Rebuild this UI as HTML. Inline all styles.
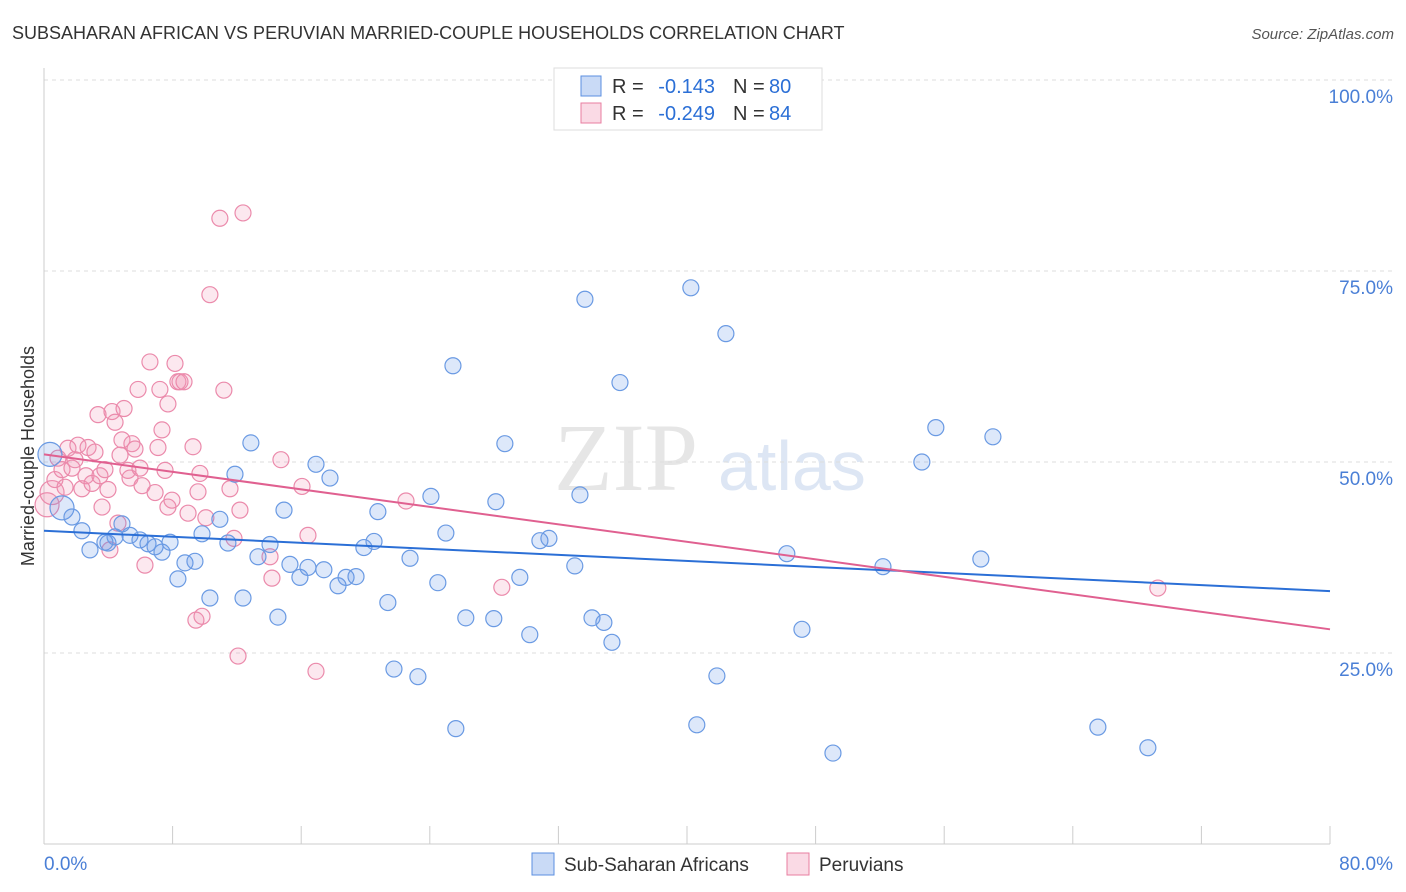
<!DOCTYPE html>
<html><head><meta charset="utf-8"><style>
body{margin:0;background:#fff;font-family:"Liberation Sans",sans-serif;}
svg{display:block}
</style></head><body>
<svg id="chart" width="1406" height="892">
<text x="12" y="39" font-size="18" fill="#333">SUBSAHARAN AFRICAN VS PERUVIAN MARRIED-COUPLE HOUSEHOLDS CORRELATION CHART</text>
<text x="1394" y="39" font-size="15" fill="#555" font-style="italic" text-anchor="end">Source: ZipAtlas.com</text>
<text x="554" y="490" font-size="96" fill="#e6e6e6" font-family="Liberation Serif">ZIP</text>
<text x="718" y="490" font-size="70" fill="#dde6f4">atlas</text>
<g id="grid"></g><g id="axes"></g><g id="pts"></g><g id="trend"></g>
<text transform="translate(34,456) rotate(-90)" font-size="18" fill="#333" text-anchor="middle">Married-couple Households</text>
<g>
<rect x="554" y="68" width="268" height="62" fill="#fff" stroke="#ddd"/>
<rect x="581" y="76" width="20" height="20" fill="rgba(100,150,230,0.35)" stroke="#5b8fe0"/>
<rect x="581" y="103" width="20" height="20" fill="rgba(240,150,180,0.35)" stroke="#e87ea0"/>
<text x="612" y="93" font-size="20" fill="#333">R =</text>
<text x="715" y="93" font-size="20" fill="#2b6fd6" text-anchor="end">-0.143</text>
<text x="733" y="93" font-size="20" fill="#333">N =</text>
<text x="769" y="93" font-size="20" fill="#2b6fd6">80</text>
<text x="612" y="120" font-size="20" fill="#333">R =</text>
<text x="715" y="120" font-size="20" fill="#2b6fd6" text-anchor="end">-0.249</text>
<text x="733" y="120" font-size="20" fill="#333">N =</text>
<text x="769" y="120" font-size="20" fill="#2b6fd6">84</text>
</g>
<g>
<rect x="532" y="853" width="22" height="22" fill="rgba(100,150,230,0.35)" stroke="#5b8fe0"/>
<text x="564" y="871" font-size="19" fill="#333">Sub-Saharan Africans</text>
<rect x="787" y="853" width="22" height="22" fill="rgba(240,150,180,0.35)" stroke="#e87ea0"/>
<text x="819" y="871" font-size="19" fill="#333">Peruvians</text>
</g>
</svg>
<script>
const yTicks=[25,50,75,100];
const yTickLabels=["25.0%","50.0%","75.0%","100.0%"];
const xTicks=[0,8,16,24,32,40,48,56,64,72,80];
const blueX=[0.37,1.12,1.74,2.36,2.86,3.79,3.98,4.42,4.85,5.35,5.97,6.47,6.91,7.34,7.84,8.33,8.77,9.39,9.83,10.32,10.94,11.44,11.88,12.38,12.87,13.31,14.06,14.55,14.93,15.30,15.92,16.42,16.92,17.41,17.79,18.29,18.79,19.41,19.90,20.53,20.77,21.39,21.77,22.77,23.26,24.07,24.50,25.00,25.44,25.62,26.24,27.98,28.11,28.67,29.60,30.22,30.85,31.41,33.02,33.34,33.65,34.09,34.83,35.33,35.83,40.24,40.61,41.86,42.42,46.21,47.15,49.08,52.19,54.61,55.48,58.28,59.03,65.56,68.67];
const blueY=[51.0,44.0,42.8,41.0,38.5,39.5,39.4,40.2,41.9,40.4,39.8,39.3,38.9,38.2,39.5,34.7,36.8,37.0,40.6,32.2,42.5,39.4,48.4,32.2,52.5,37.6,39.2,29.7,43.7,36.6,34.9,36.2,49.7,35.9,47.9,33.8,34.9,35.0,38.8,39.6,43.5,31.6,22.9,37.4,21.9,45.5,34.2,40.7,62.6,15.1,29.6,29.5,44.8,52.4,34.9,27.4,39.7,40.0,36.4,45.7,71.3,29.6,29.0,26.4,60.4,72.8,15.6,22.0,66.8,38.0,28.1,11.9,36.3,50.0,54.5,37.3,53.3,15.3,12.6];
const pinkX=[0.19,0.50,0.68,0.87,1.12,1.31,1.49,1.74,1.93,2.11,2.36,2.61,2.74,2.99,3.17,3.36,3.48,3.61,3.79,3.98,4.10,4.23,4.42,4.60,4.73,4.85,4.98,5.22,5.35,5.47,5.66,5.85,5.97,6.10,6.28,6.59,6.91,7.09,7.21,7.34,7.53,7.71,7.71,7.96,8.15,8.33,8.46,8.71,8.96,9.27,9.45,9.58,9.70,9.83,10.07,10.32,10.94,11.19,11.57,11.82,12.07,12.19,12.38,14.06,14.18,14.74,16.05,16.42,16.92,22.52,28.48,69.29];
const pinkY=[44.4,46.0,47.7,50.5,49.0,46.7,51.8,49.2,50.3,52.2,46.5,48.2,51.9,47.2,51.3,56.2,48.2,44.1,49.0,46.4,38.5,56.6,55.2,42.0,50.9,52.9,57.0,48.9,47.9,52.4,51.7,59.5,49.2,46.9,36.5,63.1,46.0,51.9,59.5,54.2,48.9,57.6,44.1,45.0,62.9,60.5,60.5,60.5,43.3,52.0,29.3,46.1,48.5,29.8,42.7,71.9,81.9,59.4,46.5,40.0,24.6,43.7,82.6,37.6,34.8,50.3,46.8,40.4,22.6,44.9,33.6,33.5];
const blueTrend=[[0,41.0],[80,33.1]];
const pinkTrend=[[0,51.0],[80,28.1]];
const NS="http://www.w3.org/2000/svg";
const X0=44,X1=1330,Y0=844,Y100=80;
const xs=v=>X0+(X1-X0)*v/80;
const ys=v=>Y0-(Y0-Y100)*v/100;
function mk(tag,attrs,parent){const e=document.createElementNS(NS,tag);for(const k in attrs)e.setAttribute(k,attrs[k]);document.getElementById(parent).appendChild(e);return e;}
yTicks.forEach((t,i)=>{
 const l=mk('line',{x1:X0,x2:1394,y1:ys(t),y2:ys(t),stroke:'#ddd','stroke-dasharray':'4,4'},'grid');
 
 
 const tx=mk('text',{x:1393,y:ys(t)+23,'font-size':19,fill:'#4a7fd6','text-anchor':'end'},'grid');
 tx.textContent=yTickLabels[i];
 
 
});
const ax=mk('line',{x1:X0,x2:X1,y1:Y0,y2:Y0,stroke:'#ccc'},'axes');


const ay=mk('line',{x1:X0,x2:X0,y1:68,y2:Y0,stroke:'#ccc'},'axes');


xTicks.forEach(t=>{
 const l=mk('line',{x1:xs(t),x2:xs(t),y1:Y0-18,y2:Y0,stroke:'#ccc'},'axes');
 
 
});
const xl0=mk('text',{x:44,y:870,'font-size':19,fill:'#4a7fd6'},'axes');xl0.textContent='0.0%';


const xl1=mk('text',{x:1393,y:870,'font-size':19,fill:'#4a7fd6','text-anchor':'end'},'axes');xl1.textContent='80.0%';


function pts(X,Y,stroke,fill,name){X.forEach((x,i)=>{
 const r=(i<2&&x<1.5)?12:8;
 const c=mk('circle',{cx:xs(x),cy:ys(Y[i]),r:r,fill:fill,stroke:stroke,'stroke-width':1.2},'pts');
 
 
});}
pts(pinkX,pinkY,'#eb8aab','rgba(240,150,180,0.22)','peruvian-point');
pts(blueX,blueY,'#6a9ae3','rgba(100,150,230,0.22)','subsaharan-point');
const bt=mk('line',{x1:xs(blueTrend[0][0]),y1:ys(blueTrend[0][1]),x2:xs(blueTrend[1][0]),y2:ys(blueTrend[1][1]),stroke:'#2b6fd6','stroke-width':2},'trend');


const pt=mk('line',{x1:xs(pinkTrend[0][0]),y1:ys(pinkTrend[0][1]),x2:xs(pinkTrend[1][0]),y2:ys(pinkTrend[1][1]),stroke:'#e06090','stroke-width':2},'trend');


</script>
</body></html>
